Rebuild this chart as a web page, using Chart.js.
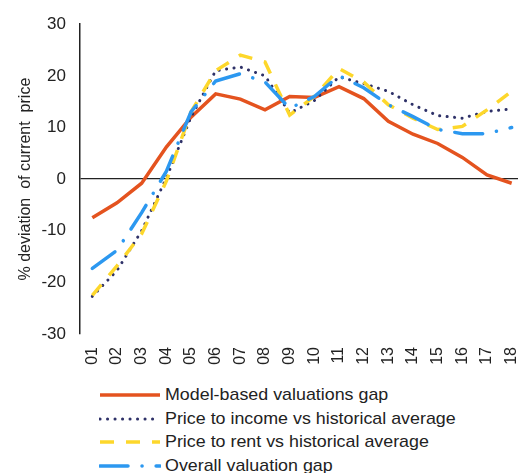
<!DOCTYPE html>
<html>
<head>
<meta charset="utf-8">
<script src="https://cdn.jsdelivr.net/npm/chart.js@4"></script>
<style>
html,body{margin:0;padding:0;background:#fff;overflow:hidden;width:518px;height:473px;}
#wrap{position:absolute;left:0;top:0;width:524px;height:372px;}
#legend{position:absolute;left:99px;top:383px;font-family:"Liberation Sans",Arial,sans-serif;font-size:17px;color:#222;}
.row{height:23.7px;display:flex;align-items:center;white-space:nowrap;}
.row svg{width:62px;height:10px;margin-right:4px;flex:none;}
.row span{display:inline-block;transform:scaleX(1.05);transform-origin:left center;}
</style>
</head>
<body>
<div id="wrap"><canvas id="c" width="524" height="372"></canvas></div>
<div id="legend"></div>
<script>
const categories = ["01","02","03","04","05","06","07","08","09","10","11","12","13","14","15","16","17","18"];
const modelBased = [-7.5,-4.6,-0.8,6.2,12,16.5,15.5,13.4,16,15.8,17.9,15.6,11.2,8.7,6.9,4.2,0.8,-0.8];
const priceToIncome = [-22.7,-17.7,-10,0.2,12,21,21.7,20,12.8,15.2,19.8,18.5,17,14.4,12.3,11.8,13.1,13.6];
const priceToRent = [-22.5,-16.8,-10.6,-0.4,13,21,24,22.7,12.4,16,21.4,18.8,14.4,11.8,9.6,10.2,13.4,17];
const overallGap = [-17.3,-13.8,-6.5,1.5,13,19,20.4,18.8,13.7,16,20,17.7,14.4,12.1,9.6,8.8,8.8,10];
const yTicks = [-30,-20,-10,0,10,20,30];
const seriesNames = ["Model-based valuations gap","Price to income vs historical average","Price to rent vs historical average","Overall valuation gap"];

const styles = [
  {color:"#E4531F", width:3.5, dash:[], cap:"butt"},
  {color:"#2E3168", width:3, dash:[0.1,7.4], cap:"round"},
  {color:"#FDD72B", width:3.5, dash:[14,12], cap:"butt"},
  {color:"#2C98F0", width:3.5, dash:[28,14,0.1,14], cap:"round"}
];
const values = [modelBased, priceToIncome, priceToRent, overallGap];

const datasets = values.map((v,i)=>({
  label: seriesNames[i],
  data: v,
  borderColor: styles[i].color,
  backgroundColor: styles[i].color,
  borderWidth: styles[i].width,
  borderDash: styles[i].dash,
  borderCapStyle: styles[i].cap,
  pointRadius: 0,
  tension: 0,
  fill: false,
  order: 3 - i
}));
const fam = "'Liberation Sans', Arial, sans-serif";
new Chart(document.getElementById('c'), {
  type: 'line',
  data: {labels: categories, datasets},
  options: {
    responsive: false,
    animation: false,
    layout: {padding: {top: 22, right: 0, left: 0, bottom: 0}},
    plugins: {legend: {display: false}, tooltip: {enabled: false}},
    scales: {
      x: {
        offset: true,
        grid: {display: false, drawTicks: false},
        border: {display: false},
        ticks: {font: {family: fam, size: 16}, minRotation: 90, maxRotation: 90, padding: 13, color: "#222"},
        afterFit: s => { s.height = 38; s.paddingLeft = 0; s.paddingRight = 0; }
      },
      y: {
        min: -30, max: 30,
        afterBuildTicks: s => { s.ticks = yTicks.map(v => ({value: v})); },
        grid: {
          drawTicks: false,
          color: c => c.tick && c.tick.value === 0 ? "#222" : "rgba(0,0,0,0)",
          lineWidth: 1.3
        },
        border: {display: true, color: "#222", width: 1.5},
        ticks: {font: {family: fam, size: 17}, padding: 14, color: "#222"},
        title: {display: true, text: "% deviation  of current  price", font: {family: fam, size: 16}, color: "#222", padding: {top: 16, bottom: 0}},
        afterFit: s => { s.width = 80; }
      }
    }
  }
});

const lg = document.getElementById('legend');
seriesNames.forEach((n,i)=>{
  const st = styles[i];
  const row = document.createElement('div');
  row.className = 'row';
  const dash = st.dash.length ? st.dash.join(',') : 'none';
  row.innerHTML = `<svg viewBox="0 0 62 10"><line x1="1" y1="5" x2="61" y2="5" stroke="${st.color}" stroke-width="${st.width}" stroke-dasharray="${dash}" stroke-linecap="${st.cap}"/></svg><span>${n}</span>`;
  lg.appendChild(row);
});
</script>
</body>
</html>
